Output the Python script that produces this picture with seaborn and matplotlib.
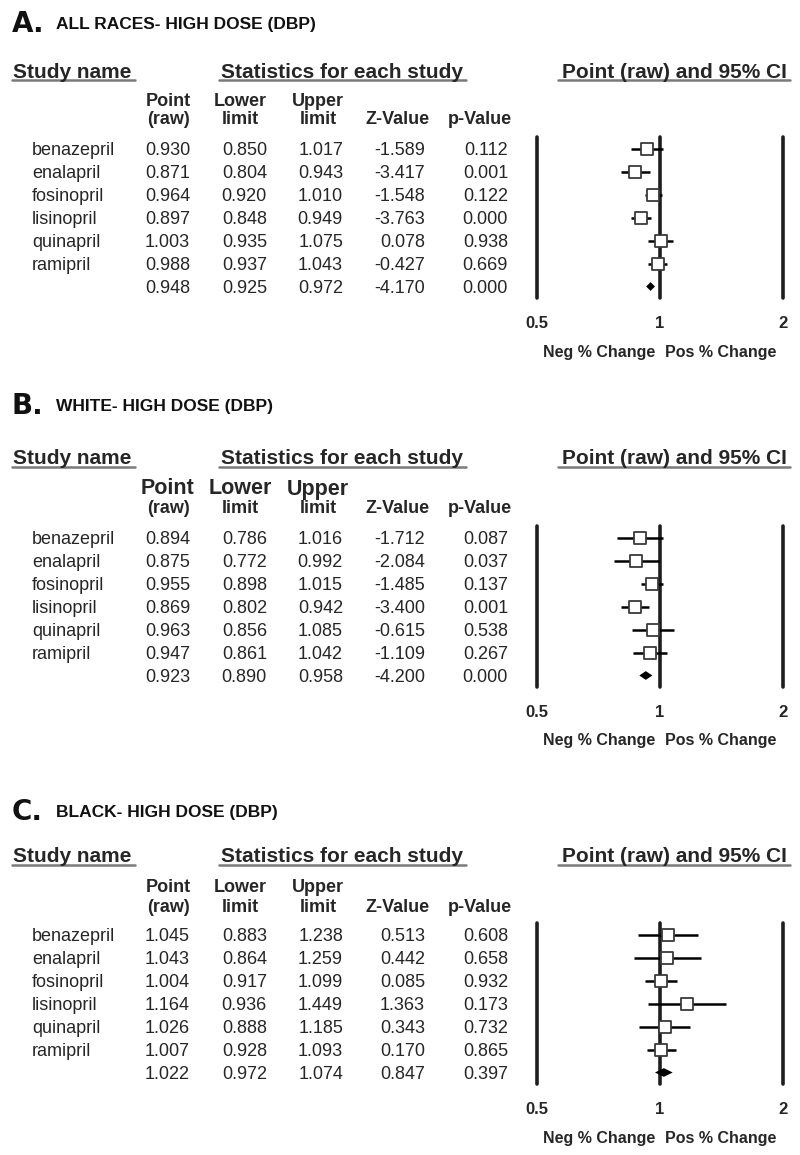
import matplotlib
matplotlib.use("Agg")
import matplotlib.pyplot as plt
import matplotlib.transforms as mtrans
import seaborn as sns
import pandas as pd

# Dữ liệu các nghiên cứu
studies = ['benazepril', 'enalapril', 'fosinopril', 'lisinopril', 'quinapril', 'ramipril', '']

a_point = [0.930, 0.871, 0.964, 0.897, 1.003, 0.988, 0.948]
a_lower = [0.850, 0.804, 0.920, 0.848, 0.935, 0.937, 0.925]
a_upper = [1.017, 0.943, 1.010, 0.949, 1.075, 1.043, 0.972]
a_z = [-1.589, -3.417, -1.548, -3.763, 0.078, -0.427, -4.170]
a_p = [0.112, 0.001, 0.122, 0.000, 0.938, 0.669, 0.000]

b_point = [0.894, 0.875, 0.955, 0.869, 0.963, 0.947, 0.923]
b_lower = [0.786, 0.772, 0.898, 0.802, 0.856, 0.861, 0.890]
b_upper = [1.016, 0.992, 1.015, 0.942, 1.085, 1.042, 0.958]
b_z = [-1.712, -2.084, -1.485, -3.400, -0.615, -1.109, -4.200]
b_p = [0.087, 0.037, 0.137, 0.001, 0.538, 0.267, 0.000]

c_point = [1.045, 1.043, 1.004, 1.164, 1.026, 1.007, 1.022]
c_lower = [0.883, 0.864, 0.917, 0.936, 0.888, 0.928, 0.972]
c_upper = [1.238, 1.259, 1.099, 1.449, 1.185, 1.093, 1.074]
c_z = [0.513, 0.442, 0.085, 1.363, 0.343, 0.170, 0.847]
c_p = [0.608, 0.658, 0.932, 0.173, 0.732, 0.865, 0.397]

panel_letters = ['A.', 'B.', 'C.']
panel_titles = ['ALL RACES- HIGH DOSE (DBP)', 'WHITE- HIGH DOSE (DBP)', 'BLACK- HIGH DOSE (DBP)']
x_ticks = [0.5, 1, 2]
x_tick_labels = ['0.5', '1', '2']

sns.set_theme(style="white")
plt.rcParams['font.family'] = ['Liberation Sans', 'DejaVu Sans']

W, H = 800, 1155
fig = plt.figure(figsize=(W / 100, H / 100), dpi=100)

def fx(px):
    return px / W

def fy(py):
    return 1 - py / H

# vị trí mỗi panel (pixel)
panels = [
    dict(letter_y=24, head_y=72, sub1=101, sub2=120, top=137, big_sub=False,
         data=(a_point, a_lower, a_upper, a_z, a_p)),
    dict(letter_y=406, head_y=459, sub1=489, sub2=508, top=526, big_sub=True,
         data=(b_point, b_lower, b_upper, b_z, b_p)),
    dict(letter_y=812, head_y=857, sub1=888, sub2=907, top=923, big_sub=False,
         data=(c_point, c_lower, c_upper, c_z, c_p)),
]

row_h = 23
n_rows = len(studies)
col_right = [190, 267, 343, 425, 508]

for k, pan in enumerate(panels):
    point, lower, upper, zval, pval = pan['data']

    # Tiêu đề panel
    fig.text(fx(12), fy(pan['letter_y']), panel_letters[k], fontsize=20, fontweight='bold',
             family=['DejaVu Sans'], va='center', ha='left', color='#111111')
    fig.text(fx(56), fy(pan['letter_y']), panel_titles[k], fontsize=12.5, fontweight='bold',
             va='center', ha='left', color='#111111')

    # Header có gạch chân
    hy = pan['head_y']
    for txt, x0, x1, cx in [('Study name', 12, 135, None),
                            ('Statistics for each study', 219, 466, 342),
                            ('Point (raw) and 95% CI', 558, 790, 674)]:
        if cx is None:
            fig.text(fx(13), fy(hy), txt, fontsize=15, fontweight='bold', va='center', ha='left')
        else:
            fig.text(fx(cx), fy(hy), txt, fontsize=15, fontweight='bold', va='center', ha='center')
        fig.add_artist(plt.Line2D([fx(x0), fx(x1)], [fy(hy + 8), fy(hy + 8)], color='#7a7a7a', lw=1.8))

    s1 = 15.5 if pan['big_sub'] else 13
    sub_cols = [('Point', '(raw)', 168), ('Lower', 'limit', 240), ('Upper', 'limit', 318),
                ('', 'Z-Value', 398), ('', 'p-Value', 480)]
    for l1, l2, cx in sub_cols:
        if l1:
            fig.text(fx(cx), fy(pan['sub1']), l1, fontsize=s1, fontweight='bold', va='center', ha='center')
        fig.text(fx(cx), fy(pan['sub2']), l2, fontsize=13, fontweight='bold', va='center', ha='center')

    # Trục forest plot (thang log)
    top = pan['top']
    ax = fig.add_axes([fx(537), fy(top + n_rows * row_h), fx(783 - 537), n_rows * row_h / H])
    ax.set_xscale('log')
    ax.set_xlim(0.5, 2)
    ax.set_ylim(n_rows - 0.5, -0.5)
    for sp in ax.spines.values():
        sp.set_visible(False)
    for xv in x_ticks:
        ax.axvline(xv, color='#1e1e1e', lw=2.6, clip_on=False, zorder=1)

    rows = list(range(n_rows))
    df = pd.DataFrame({'row': rows, 'point': point, 'lower': lower, 'upper': upper})
    studies_df = df.iloc[:-1]
    ax.hlines(studies_df['row'], studies_df['lower'], studies_df['upper'], color='black', lw=1.8, zorder=2)
    sns.scatterplot(data=studies_df, x='point', y='row', marker='s', s=68, color='white',
                    edgecolor='#3a3a3a', linewidth=1.3, ax=ax, zorder=3, legend=False)
    # kim cương tổng hợp
    sm = df.iloc[-1]
    ax.fill([sm['lower'], sm['point'], sm['upper'], sm['point']],
            [sm['row'], sm['row'] - 0.19, sm['row'], sm['row'] + 0.19],
            color='black', zorder=3, lw=0)

    ax.set_xticks(x_ticks)
    ax.set_xticklabels(x_tick_labels, fontsize=12, fontweight='bold')
    ax.xaxis.set_minor_locator(matplotlib.ticker.NullLocator())
    ax.tick_params(axis='x', length=0, pad=13)
    ax.set_yticks([])
    ax.set_xlabel('')
    ax.set_ylabel('')
    ax.patch.set_alpha(0)

    # Nhãn Neg / Pos
    ly = fy(top + 215)
    fig.text(fx(655), ly, 'Neg % Change', fontsize=11.5, fontweight='bold', ha='right', va='center')
    fig.text(fx(665), ly, 'Pos % Change', fontsize=11.5, fontweight='bold', ha='left', va='center')

    # Bảng số liệu, dùng trục y của forest plot (dịch xuống 2px)
    ttr = mtrans.blended_transform_factory(fig.transFigure, ax.transData) + \
        mtrans.ScaledTranslation(0, -2 / 100, fig.dpi_scale_trans)
    for i in rows:
        if studies[i]:
            ax.text(fx(32), i, studies[i], transform=ttr, fontsize=13, va='center', ha='left')
        vals = [f"{point[i]:.3f}", f"{lower[i]:.3f}", f"{upper[i]:.3f}", f"{zval[i]:.3f}", f"{pval[i]:.3f}"]
        for v, xr in zip(vals, col_right):
            ax.text(fx(xr), i, v, transform=ttr, fontsize=13, va='center', ha='right')

plt.savefig('out.png', dpi=100)
plt.close()
